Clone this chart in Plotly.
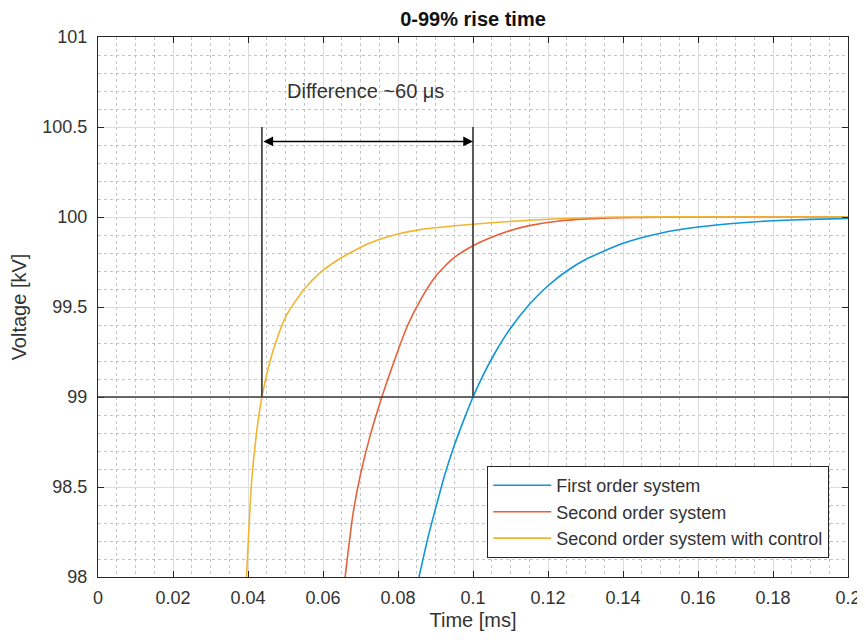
import plotly.graph_objects as go

# ---- data ----
t_first = [0.0856, 0.088, 0.09, 0.0925, 0.095, 0.0975, 0.1, 0.103, 0.106, 0.11, 0.115, 0.12, 0.125,
           0.13, 0.14, 0.15, 0.16, 0.17, 0.18, 0.19, 0.2]
v_first = [98.0, 98.22, 98.38, 98.57, 98.73, 98.87, 99.0, 99.134, 99.25, 99.382, 99.514, 99.618, 99.7,
           99.764, 99.854, 99.91, 99.944, 99.965, 99.979, 99.987, 99.992]

t_second = [0.0659, 0.068, 0.07, 0.0725, 0.0757, 0.079, 0.0824, 0.086, 0.09, 0.0947, 0.1, 0.1053,
            0.11, 0.115, 0.123, 0.1365, 0.16, 0.2]
v_second = [98.0, 98.35, 98.57, 98.78, 99.0, 99.2, 99.39, 99.54, 99.67, 99.77, 99.84, 99.89,
            99.925, 99.952, 99.978, 99.995, 100.0, 100.0]

t_ctrl = [0.0396, 0.041, 0.0424, 0.0437, 0.0459, 0.048, 0.0504, 0.055, 0.0592, 0.065, 0.0725,
          0.08, 0.0859, 0.1, 0.123, 0.14, 0.17, 0.2]
v_ctrl = [98.0, 98.54, 98.82, 99.0, 99.2, 99.34, 99.46, 99.6, 99.69, 99.775, 99.855,
          99.905, 99.93, 99.96, 99.99, 100.0, 100.0, 100.0]

names = ["First order system", "Second order system", "Second order system with control"]
colors = ["#0f96d6", "#e8603a", "#f2b530"]

threshold = 99.0
rise_times = [0.0437, 0.1]
marker_top = 100.5
arrow_y = 100.42
label_pos = (0.0712, 100.7)
label_text = "Difference ~60 μs"

x_ticks = [0, 0.02, 0.04, 0.06, 0.08, 0.1, 0.12, 0.14, 0.16, 0.18, 0.2]
x_ticklabels = ["0", "0.02", "0.04", "0.06", "0.08", "0.1", "0.12", "0.14", "0.16", "0.18", "0.2"]
y_ticks = [98, 98.5, 99, 99.5, 100, 100.5, 101]
y_ticklabels = ["98", "98.5", "99", "99.5", "100", "100.5", "101"]

FONT = "Liberation Sans, Arial, sans-serif"
TXT = "#333333"

# page body has an 8px default margin; figure sized to fit the window
W, H = 857, 634
ML, MR, MT, MB = 90, 17, 29, 65

fig = go.Figure()
for t, v, n, c in zip([t_first, t_second, t_ctrl], [v_first, v_second, v_ctrl], names, colors):
    fig.add_trace(go.Scatter(x=t, y=v, mode="lines", name=n,
                             line=dict(color=c, width=1.6, shape="spline", smoothing=0.6)))

# threshold line
fig.add_shape(type="line", xref="paper", x0=0, x1=1, yref="y", y0=threshold, y1=threshold,
              line=dict(color="#3a3a3a", width=1.6), layer="above")
# vertical rise-time markers
for rt in rise_times:
    fig.add_shape(type="line", xref="x", x0=rt, x1=rt, yref="y", y0=threshold, y1=marker_top,
                  line=dict(color="#4a4a4a", width=1.8), layer="above")

# double arrow
fig.add_annotation(x=rise_times[1], y=arrow_y, ax=rise_times[0], ay=arrow_y,
                   xref="x", yref="y", axref="x", ayref="y", text="",
                   showarrow=True, arrowhead=2, startarrowhead=2, arrowside="end+start",
                   arrowsize=1.3, startarrowsize=1.3, arrowwidth=1.5, arrowcolor="black",
                   standoff=0, startstandoff=0)
fig.add_annotation(x=label_pos[0], y=label_pos[1], xref="x", yref="y", text=label_text,
                   showarrow=False, font=dict(family=FONT, size=20, color=TXT))

axis_common = dict(showline=True, linecolor="#262626", linewidth=1.2, mirror="ticks",
                   ticks="inside", ticklen=6, tickcolor="#262626",
                   showgrid=True, gridcolor="#dcdcdc", gridwidth=1, zeroline=False,
                   automargin=False,
                   tickfont=dict(family=FONT, size=18, color=TXT))

fig.update_xaxes(range=[0, 0.2], tickvals=x_ticks, ticktext=x_ticklabels, ticklabelstandoff=4,
                 title=dict(text="Time [ms]", font=dict(family=FONT, size=20, color=TXT), standoff=6),
                 minor=dict(dtick=0.005, showgrid=True, gridcolor="#c4c4c4", griddash="dot", gridwidth=1),
                 **axis_common)
fig.update_yaxes(range=[98, 101], tickvals=y_ticks, ticktext=y_ticklabels, ticklabelstandoff=6,
                 title=dict(text="Voltage [kV]", font=dict(family=FONT, size=20, color=TXT), standoff=10),
                 minor=dict(dtick=0.1, showgrid=True, gridcolor="#c4c4c4", griddash="dot", gridwidth=1),
                 **axis_common)

fig.update_layout(
    width=W, height=H,
    margin=dict(l=ML, r=MR, t=MT, b=MB),
    paper_bgcolor="white", plot_bgcolor="white",
    title=dict(text="<b>0-99% rise time</b>", x=(ML + (W - MR)) / 2 / W, xanchor="center",
               y=1 - 4 / H, yanchor="top", pad=dict(t=0, b=0),
               font=dict(family=FONT, size=20, color="#111111")),
    legend=dict(x=0.975, y=0.035, xanchor="right", yanchor="bottom",
                bgcolor="white", bordercolor="#262626", borderwidth=1,
                font=dict(family=FONT, size=18, color=TXT), tracegroupgap=0,
                itemwidth=58),
    showlegend=True,
)

fig.write_html("out.html")
